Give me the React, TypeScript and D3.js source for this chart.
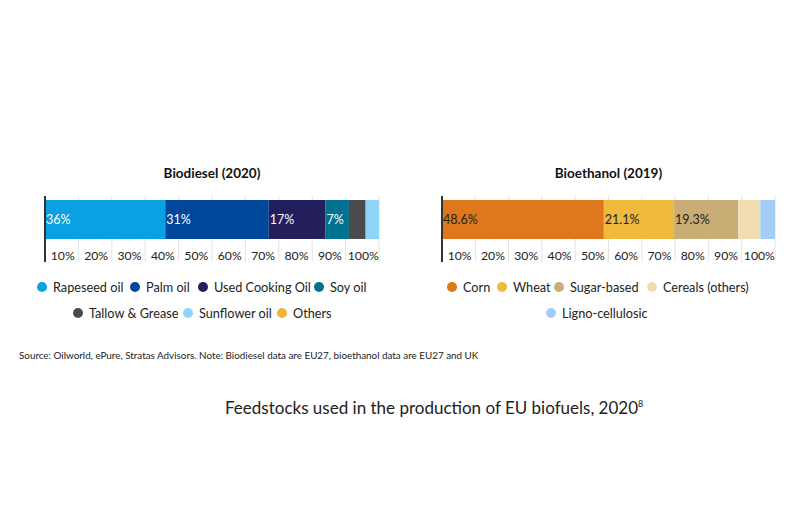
import React from "react";
import * as d3 from "d3";

const bioCategories = ["Rapeseed oil", "Palm oil", "Used Cooking Oil", "Soy oil", "Tallow & Grease", "Sunflower oil", "Others"];
const bioValues = [36, 31, 17, 7, 5, 4, 0];
const bioLabels = ["36%", "31%", "17%", "7%", "", "", ""];
const bioColors = ["#0aa0e2", "#00479b", "#221f5c", "#00728f", "#4b4b4b", "#8fd5f8", "#f0b43c"];

const ethCategories = ["Corn", "Wheat", "Sugar-based", "Cereals (others)", "Ligno-cellulosic"];
const ethValues = [48.6, 21.1, 19.3, 6.6, 4.4];
const ethLabels = ["48.6%", "21.1%", "19.3%", "", ""];
const ethColors = ["#df771c", "#f0b93d", "#c9ad74", "#f0deb2", "#a3cdf7"];

const tickValues = [10, 20, 30, 40, 50, 60, 70, 80, 90, 100];

const FONT = "Lato, 'Noto Sans', sans-serif";

type PanelProps = {
  x0: number;
  x1: number;
  title: string;
  values: number[];
  labels: string[];
  colors: string[];
  labelColor: string;
};

function Panel({ x0, x1, title, values, labels, colors, labelColor }: PanelProps) {
  const x = d3.scaleLinear().domain([0, 100]).range([x0, x1]);
  const barTop = 200;
  const barH = 39;
  const cum = d3.cumsum(values);
  const starts = values.map((v, i) => (i === 0 ? 0 : cum[i - 1]));
  return (
    <g>
      <text x={(x0 + x1) / 2} y={178} textAnchor="middle" fontFamily={FONT} fontWeight="bold" fontSize={13.5} fill="#111">
        {title}
      </text>
      {tickValues.map((t) => (
        <line key={"g" + t} x1={x(t)} x2={x(t)} y1={196} y2={262} stroke="#e3e3e3" strokeWidth={1} />
      ))}
      {values.map((v, i) =>
        v > 0 ? (
          <rect key={"r" + i} x={x(starts[i])} y={barTop} width={x(starts[i] + v) - x(starts[i])} height={barH} fill={colors[i]} />
        ) : null
      )}
      {labels.map((l, i) =>
        l ? (
          <text key={"l" + i} x={x(starts[i]) + 1} y={barTop + barH / 2 + 4.5} fontFamily={FONT} fontSize={12.5} fill={labelColor}>
            {l}
          </text>
        ) : null
      )}
      <line x1={x0} x2={x0} y1={196} y2={262} stroke="#333" strokeWidth={2} />
      {tickValues.map((t) => (
        <text key={"t" + t} x={x(t - 5) + 1} y={259.5} textAnchor="middle" fontFamily={FONT} fontSize={12.2} fill="#222">
          {t}%
        </text>
      ))}
    </g>
  );
}

type LegendRow = { y: number; items: number[]; xs: number[] };

function Legend({ names, colors, rows }: { names: string[]; colors: string[]; rows: LegendRow[] }) {
  return (
    <g>
      {rows.map((row, ri) => (
        <g key={ri}>
          {row.items.map((idx, k) => (
            <g key={idx}>
              <circle cx={row.xs[k]} cy={row.y} r={5} fill={colors[idx]} />
              <text x={row.xs[k] + 11} y={row.y + 4.5} fontFamily={FONT} fontSize={12.7} fill="#222">
                {names[idx]}
              </text>
            </g>
          ))}
        </g>
      ))}
    </g>
  );
}

export default function App() {
  return (
    <svg width={800} height={526} style={{ display: "block", margin: "-8px" }} viewBox="0 0 800 526">
      <rect width={800} height={526} fill="#fff" />
      <Panel x0={45} x1={379} title="Biodiesel (2020)" values={bioValues} labels={bioLabels} colors={bioColors} labelColor="#fff" />
      <Panel x0={442} x1={775} title="Bioethanol (2019)" values={ethValues} labels={ethLabels} colors={ethColors} labelColor="#222" />
      <Legend
        names={bioCategories}
        colors={bioColors}
        rows={[
          { y: 287, items: [0, 1, 2, 3], xs: [42, 135, 203, 319] },
          { y: 313, items: [4, 5, 6], xs: [78, 188, 282] },
        ]}
      />
      <Legend
        names={ethCategories}
        colors={ethColors}
        rows={[
          { y: 287, items: [0, 1, 2, 3], xs: [452, 502, 559, 652] },
          { y: 313, items: [4], xs: [551] },
        ]}
      />
      <text x={19} y={359} fontFamily={FONT} fontSize={9.85} fill="#222">
        Source: Oilworld, ePure, Stratas Advisors.  Note: Biodiesel data are EU27, bioethanol data are EU27 and UK
      </text>
      <text x={225} y={414} fontFamily={FONT} fontSize={17} fill="#222">
        Feedstocks used in the production of EU biofuels, 2020
        <tspan dy={-7} fontSize={9}>8</tspan>
      </text>
    </svg>
  );
}
